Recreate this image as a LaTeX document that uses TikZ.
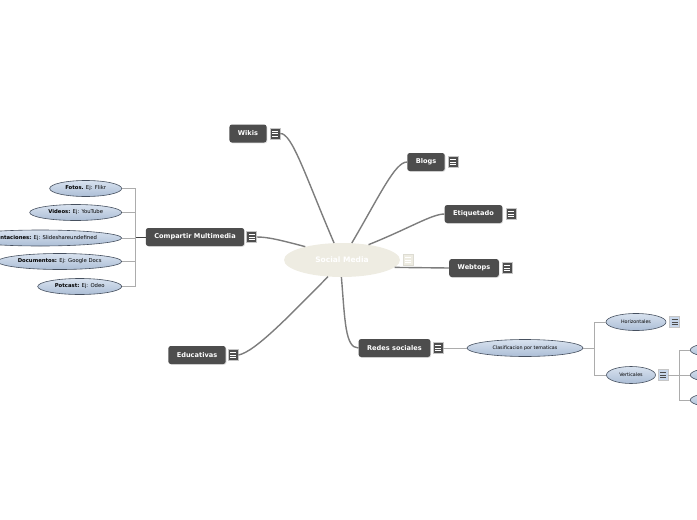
\documentclass[tikz,border=0pt]{standalone}
\usepackage{fontspec}
\setmainfont{DejaVu Sans}
\usetikzlibrary{shapes.geometric, positioning, calc, shadows}

\definecolor{topicgray}{RGB}{77,77,77}
\definecolor{rootbeige}{RGB}{238,236,226}
\definecolor{leaftop}{RGB}{216,226,239}
\definecolor{leafbottom}{RGB}{172,190,214}
\definecolor{leafedge}{RGB}{70,80,95}
\definecolor{iconblue}{RGB}{200,215,235}
\definecolor{linkgray}{RGB}{125,125,125}

\begin{document}
\begin{tikzpicture}[
    x=1pt, y=-1pt,
    topic/.style={rectangle, rounded corners=2.5pt, fill=topicgray, text=white, minimum height=18pt, inner xsep=8.5pt, inner ysep=0pt, font=\bfseries\fontsize{6.6}{7}\selectfont, drop shadow={opacity=0.25, shadow xshift=0.8pt, shadow yshift=-0.8pt}},
    root/.style={ellipse, fill=rootbeige, text=white, minimum width=116pt, minimum height=34pt, inner sep=0pt, font=\bfseries\fontsize{7.5}{8}\selectfont},
    leaf/.style={ellipse, top color=leaftop, bottom color=leafbottom, draw=leafedge, line width=0.6pt, minimum height=16pt, inner sep=0pt, text=black, font=\fontsize{5.3}{6}\selectfont},
    tag/.style={leaf, minimum height=17pt, font=\fontsize{4.8}{5}\selectfont},
    icon/.style 2 args={rectangle, fill=#1, draw=gray!45, line width=0.5pt, minimum width=10pt, minimum height=11pt, inner sep=0pt, path picture={\foreach \k in {-2.6,0,2.6} \draw[#2, line width=0.6pt] ($(path picture bounding box.center)+(-3,\k)$) -- ++(6,0);}},
    link/.style={draw=linkgray, line width=1.4pt},
    branch/.style={draw=gray!65, line width=0.8pt}
]
\useasboundingbox (0,0) rectangle (697,520);

% centre
\node[root] (root) at (342,260) {Social Media};
\node[icon={rootbeige}{white}, draw=rootbeige!85!gray, right=3pt of root] (root-i) {};

% main topics
\node[topic] (wikis) at (248,133.5) {Wikis};
\node[icon={topicgray}{white}, right=3pt of wikis] (wikis-i) {};
\node[topic] (blogs) at (426,162) {Blogs};
\node[icon={topicgray}{white}, right=3pt of blogs] (blogs-i) {};
\node[topic] (etiq) at (473.5,214) {Etiquetado};
\node[icon={topicgray}{white}, right=3pt of etiq] (etiq-i) {};
\node[topic] (webtops) at (474,268) {Webtops};
\node[icon={topicgray}{white}, right=3pt of webtops] (webtops-i) {};
\node[topic] (comp) at (195,237) {Compartir Multimedia};
\node[icon={topicgray}{white}, right=2pt of comp] (comp-i) {};
\node[topic] (educ) at (197,355) {Educativas};
\node[icon={topicgray}{white}, right=2pt of educ] (educ-i) {};
\node[topic] (redes) at (394.5,348) {Redes sociales};
\node[icon={topicgray}{white}, right=2pt of redes] (redes-i) {};

% Redes sociales
\node[tag, minimum width=116pt] (clasif) at (525,348) {Clasificacion por tematicas};
\node[tag, minimum width=60pt] (horiz) at (636,322) {Horizontales};
\node[icon={iconblue}{black!70}, right=3pt of horiz] (horiz-i) {};
\node[tag, minimum width=49pt] (vert) at (631,375) {Verticales};
\node[icon={iconblue}{black!70}, right=2pt of vert] (vert-i) {};
\node[tag, minimum width=60pt, minimum height=15pt, anchor=west] (vert-a) at (690,350) {};
\node[tag, minimum width=60pt, minimum height=15pt, anchor=west] (vert-b) at (690,375) {};
\node[tag, minimum width=60pt, minimum height=15pt, anchor=west] (vert-c) at (690,400) {};

% Compartir Multimedia
\node[leaf, minimum width=72pt, anchor=east] (fotos) at (122,188.5) {\textbf{Fotos.} Ej: Flikr};
\node[leaf, minimum width=92pt, anchor=east] (videos) at (122,212.5) {\textbf{Videos:} Ej: YouTube};
\node[leaf, minimum width=163pt, anchor=east] (present) at (122,238) {\textbf{Presentaciones:} Ej: Slideshareundefined};
\node[leaf, minimum width=124pt, anchor=east] (docs) at (122,261.5) {\textbf{Documentos:} Ej: Google Docs};
\node[leaf, minimum width=84pt, anchor=east] (potcast) at (122,286.5) {\textbf{Potcast:} Ej: Odeo};

% links from the centre
\draw[link] (root.115) .. controls (305,175) and (292,133) .. (wikis-i.east);
\draw[link] (root.60) .. controls (380,195) and (395,162) .. (blogs.west);
\draw[link] (root.30) .. controls (410,228) and (432,214) .. (etiq.west);
\draw[link] (root.-8) -- (webtops.west);
\draw[link] (root.160) .. controls (280,240) and (268,237) .. (comp-i.east);
\draw[link] (root.230) .. controls (290,315) and (255,352) .. (educ-i.east);
\draw[link] (root.268) .. controls (345,320) and (345,348) .. (redes.west);

% branches
\draw[branch] (redes-i.east) -- (clasif.west);
\draw[branch] (clasif.east) -- ++(11,0) coordinate (clasif-b);
\draw[branch] (clasif-b) |- (horiz.west);
\draw[branch] (clasif-b) |- (vert.west);
\draw[branch] (vert-i.east) -- ++(11,0) coordinate (vert-bk);
\foreach \n in {vert-a,vert-b,vert-c}
  \draw[branch] (vert-bk) |- (\n.west);
\draw[branch, draw=black!75] (comp.west) -- ++(-10,0) coordinate (comp-b);
\foreach \n in {fotos,videos,present,docs,potcast}
  \draw[branch] (comp-b) |- (\n.east);

\end{tikzpicture}
\end{document}
